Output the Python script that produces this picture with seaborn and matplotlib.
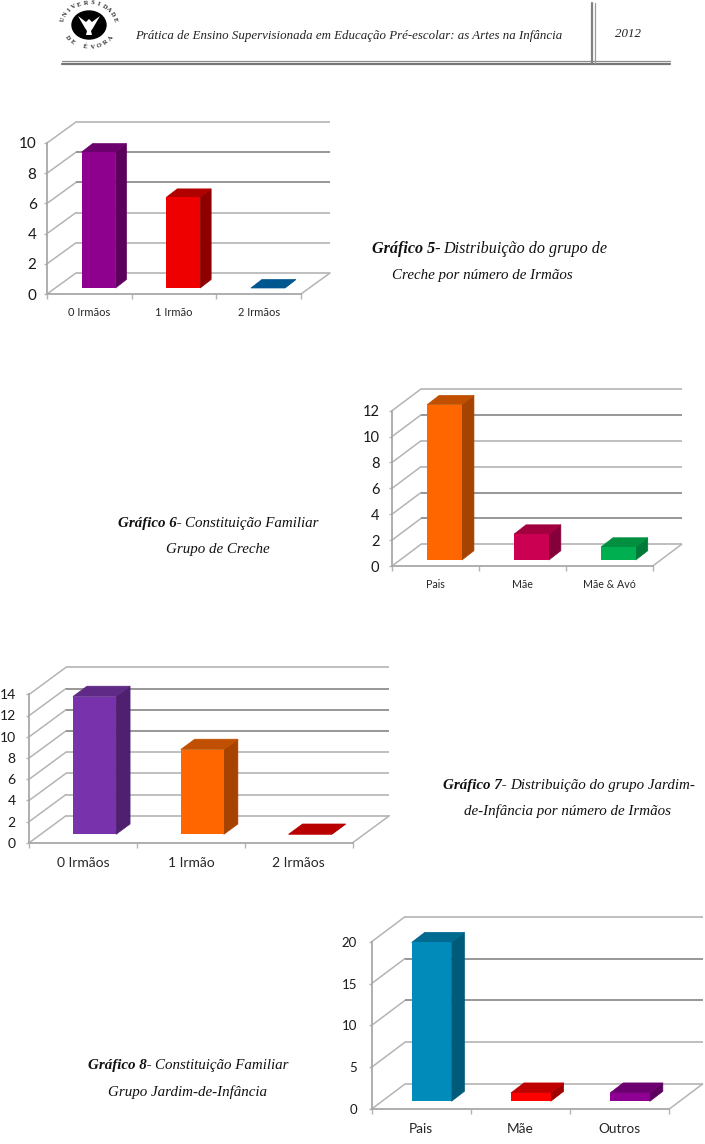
import numpy as np
import matplotlib
matplotlib.use('Agg')
import matplotlib.pyplot as plt
from matplotlib.patches import Ellipse
import seaborn as sns

W, H = 705, 1144

# data
irmaos_labels = ['0 Irmãos', '1 Irmão', '2 Irmãos']
familia_creche_labels = ['Pais', 'Mãe', 'Mãe & Avó']
familia_jardim_labels = ['Pais', 'Mãe', 'Outros']

creche_irmaos = [9, 6, 0]
creche_familia = [12, 2, 1]
jardim_irmaos = [13, 8, 0]
jardim_familia = [19, 1, 1]

ticks_g5 = [0, 2, 4, 6, 8, 10]
ticks_g6 = [0, 2, 4, 6, 8, 10, 12]
ticks_g7 = [0, 2, 4, 6, 8, 10, 12, 14]
ticks_g8 = [0, 5, 10, 15, 20]

# (front, side, top) colours of the fake 3d bars
purple = ('#8E008E', '#5C005C', '#6C006C')
red = ('#EE0000', '#8E0000', '#B00000')
blue = ('#00568F', '#00446F', '#00568F')
orange = ('#FF6600', '#A64300', '#C05000')
crimson = ('#CC0052', '#85003A', '#A30040')
green = ('#00B050', '#007A38', '#009040')
violet = ('#7832AC', '#4F2070', '#5E2A85')
darkred = ('#B80000', '#8E0000', '#B80000')
teal = ('#008BBB', '#005A7A', '#006A90')
red2 = ('#FF0000', '#A00000', '#C00000')
purple2 = ('#8E0093', '#5C0060', '#6C0070')

GRID = '#b4b4b4'
GRID_DARK = '#858585'

sns.set_theme(style='white')
plt.rcParams['font.family'] = ['Lato', 'DejaVu Sans']

fig = plt.figure(figsize=(W / 100, H / 100), dpi=100, facecolor='white')

# page axes in image pixels, used for header and captions
page = fig.add_axes([0, 0, 1, 1])
page.set_xlim(0, W)
page.set_ylim(H, 0)
page.axis('off')


def bar3d_chart(box, labels, values, ticks, colors, depth, bar_off, side,
                dark=(), xsize=7, ysize=10.5, xpad=9, ypad=5):
    # box is the front plane in pixels: left, right, top (y max), bottom (y 0)
    left, right, top, bottom = box
    ax = fig.add_axes([left / W, 1 - bottom / H, (right - left) / W, (bottom - top) / H])
    ax.patch.set_alpha(0)

    sns.barplot(x=labels, y=values, hue=labels, palette=[c[0] for c in colors],
                width=0.4, saturation=1, legend=False, linewidth=0, ax=ax)
    ax.set_xlim(-0.5, 2.5)
    ax.set_ylim(ticks[0], ticks[-1])

    # pixel to data units
    ux = 3 / (right - left)
    uy = (ticks[-1] - ticks[0]) / (bottom - top)
    dx, dy = depth[0] * ux, depth[1] * uy
    ox, oy = bar_off[0] * ux, bar_off[1] * uy
    sx, sy = side[0] * ux, side[1] * uy

    # back wall and floor lines
    for t in ticks:
        col = GRID_DARK if t in dark else GRID
        ax.plot([-0.5, -0.5 + dx], [t, t + dy], color=GRID, lw=1.1, zorder=1, clip_on=False)
        ax.plot([-0.5 + dx, 2.5 + dx], [t + dy, t + dy], color=col, lw=1.2, zorder=1,
                clip_on=False, solid_capstyle='butt')
    ax.plot([2.5, 2.5 + dx], [0, dy], color=GRID, lw=1.1, zorder=1, clip_on=False)

    # bars: shift the front face, add side and top from the bar itself
    bars = sorted(ax.patches, key=lambda p: p.get_x())
    for bar, c in zip(bars, colors):
        x0 = bar.get_x() + ox
        x1 = x0 + bar.get_width()
        h = bar.get_height()
        bar.set_x(x0)
        bar.set_y(oy)
        bar.set_zorder(4)
        bar.set_clip_on(False)
        ax.fill([x1, x1 + sx, x1 + sx, x1], [oy, oy + sy, oy + h + sy, oy + h],
                facecolor=c[1], edgecolor=c[1], lw=0.5, zorder=3, clip_on=False)
        ax.fill([x0, x0 + sx, x1 + sx, x1], [oy + h, oy + h + sy, oy + h + sy, oy + h],
                facecolor=c[2], edgecolor=c[2], lw=0.5, zorder=3, clip_on=False)

    ax.set_yticks(ticks)
    ax.set_yticklabels([str(t) for t in ticks])
    ax.set_xticks([0, 1, 2])
    ax.set_xticklabels(labels)
    ax.set_xticks([-0.5, 0.5, 1.5, 2.5], minor=True)
    ax.tick_params(axis='y', left=True, length=2.5, width=1, color=GRID, pad=ypad,
                   labelsize=ysize, labelcolor='#1a1a1a')
    ax.tick_params(axis='x', which='major', bottom=False, length=0, pad=xpad,
                   labelsize=xsize, labelcolor='#262626')
    ax.tick_params(axis='x', which='minor', bottom=True, length=3.5, width=1, color=GRID)
    ax.set_xlabel('')
    ax.set_ylabel('')
    sns.despine(ax=ax, top=True, right=True)
    for s in ['left', 'bottom']:
        ax.spines[s].set_color('#a8a8a8')
        ax.spines[s].set_linewidth(1.3)
    return ax


bar3d_chart((47, 301, 143, 294), irmaos_labels, creche_irmaos, ticks_g5,
            [purple, red, blue], (29, 21), (9.2, 6), (11, 8.5), dark=(8, 6),
            xsize=8, ysize=11, xpad=9, ypad=5)
bar3d_chart((392, 652.7, 410.7, 566), familia_creche_labels, creche_familia, ticks_g6,
            [orange, crimson, green], (29, 21.7), (9.1, 6), (12, 9.3), dark=(10, 2, 4),
            xsize=7.7, ysize=10.5, xpad=9, ypad=6.6)
bar3d_chart((29.3, 352.7, 694.3, 842.7), irmaos_labels, jardim_irmaos, ticks_g7,
            [violet, orange, darkred], (36.7, 27), (11.3, 8.4), (14, 10.3), dark=(12, 10, 8),
            xsize=10, ysize=10, xpad=10.5, ypad=7.3)
bar3d_chart((371.7, 669.3, 941.7, 1109), familia_jardim_labels, jardim_familia, ticks_g8,
            [teal, red2, purple2], (33.3, 25), (10.3, 7.7), (13, 10), dark=(15, 10),
            xsize=9.8, ysize=9.5, xpad=10, ypad=8)


# captions
SERIF = 'Liberation Serif'
CAP = 10.8


def caption(x, y, bold_part, rest, x2, y2, second, first_size=CAP):
    t = page.text(x, y, bold_part, family=SERIF, style='italic', weight='bold',
                  fontsize=first_size, color='#111111', va='center', ha='left')
    r = fig.canvas.get_renderer()
    ext = t.get_window_extent(r)
    page.text(x + ext.width + 3, y, rest, family=SERIF, style='italic', fontsize=first_size,
              color='#111111', va='center', ha='left')
    page.text(x2, y2, second, family=SERIF, style='italic', fontsize=CAP,
              color='#111111', va='center', ha='center')


caption(372, 249, 'Gráfico 5-', 'Distribuição do grupo de', 482, 276, 'Creche por número de Irmãos',
        first_size=11.6)
caption(118, 524, 'Gráfico 6-', 'Constituição Familiar', 218, 550, 'Grupo de Creche')
caption(443, 785, 'Gráfico 7-', 'Distribuição do grupo Jardim-', 568, 811, 'de-Infância por número de Irmãos')
caption(88, 1066, 'Gráfico 8-', 'Constituição Familiar', 187, 1092, 'Grupo Jardim-de-Infância')

# header
page.text(135, 36, 'Prática de Ensino Supervisionada em Educação Pré-escolar: as Artes na Infância',
          family=SERIF, style='italic', fontsize=9.3, color='#222222', va='center', ha='left')
page.text(615, 34, '2012', family=SERIF, style='italic', fontsize=9.3, color='#222222',
          va='center', ha='left')
page.plot([62, 670], [60.5, 60.5], color='#8c8c8c', lw=0.9)
page.plot([62, 670], [63.5, 63.5], color='#777777', lw=1.6)
page.plot([591.7, 591.7], [3, 63], color='#808080', lw=1.6)
page.plot([595, 595], [3, 63], color='#9a9a9a', lw=0.9)

# logo
cx, cy = 89, 25
page.add_patch(Ellipse((cx, cy), 34, 28, color='black', zorder=2))
page.fill([cx - 11, cx - 3, cx, cx + 3, cx + 11, cx + 4, cx + 2, cx + 3, cx - 3, cx - 2, cx - 4],
          [cy - 9, cy - 3, cy - 6, cy - 3, cy - 9, cy + 3, cy + 6, cy + 10, cy + 10, cy + 6, cy + 3],
          color='white', lw=0, zorder=3)
for letter, ang in zip('UNIVERSIDADE', np.linspace(165, 15, 12)):
    a = np.radians(ang)
    page.text(cx + 27 * np.cos(a), cy - 22 * np.sin(a), letter, family=SERIF, weight='bold',
              fontsize=4.6, rotation=ang - 90, ha='center', va='center', color='#222222')
for letter, ang in zip('DE ÉVORA', np.linspace(216, 324, 8)):
    a = np.radians(ang)
    page.text(cx + 27 * np.cos(a), cy - 22 * np.sin(a), letter, family=SERIF, weight='bold',
              fontsize=4.6, rotation=ang - 270, ha='center', va='center', color='#222222')

fig.savefig('out.png', dpi=100)
